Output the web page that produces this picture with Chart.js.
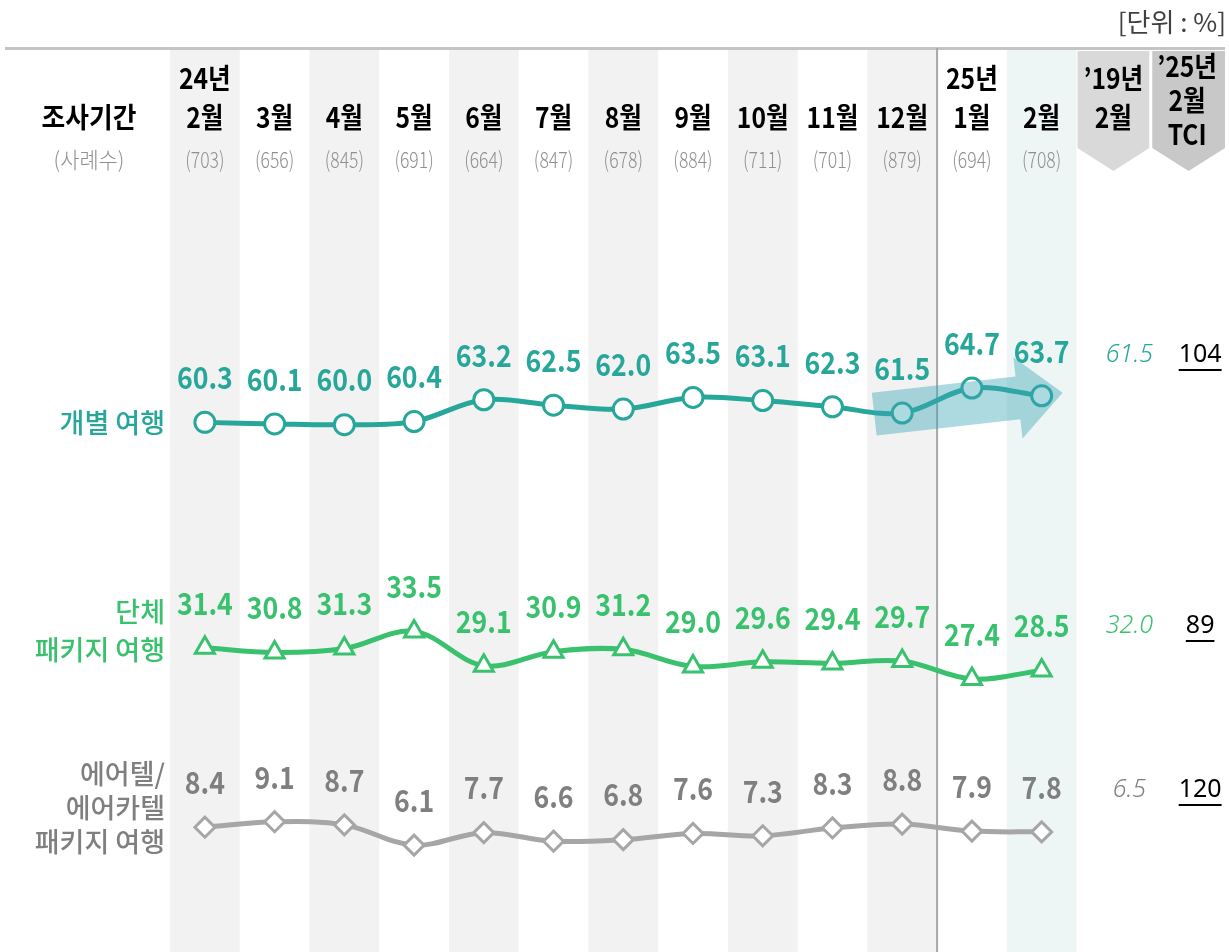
<!DOCTYPE html>
<html>
<head>
<meta charset="utf-8">
<script src="https://cdn.jsdelivr.net/npm/chart.js@4.4.1/dist/chart.umd.min.js"></script>
<style>
  html, body { margin: 0; padding: 0; background: #fff; }
  canvas { display: block; }
</style>
</head>
<body>
<canvas id="chart" width="1229" height="952"></canvas>
<script>
// data
const years = ['24년', '', '', '', '', '', '', '', '', '', '', '25년', ''];
const months = ['2월', '3월', '4월', '5월', '6월', '7월', '8월', '9월', '10월', '11월', '12월', '1월', '2월'];
const samples = [703, 656, 845, 691, 664, 847, 678, 884, 711, 701, 879, 694, 708];
const individual = [60.3, 60.1, 60.0, 60.4, 63.2, 62.5, 62.0, 63.5, 63.1, 62.3, 61.5, 64.7, 63.7];
const group = [31.4, 30.8, 31.3, 33.5, 29.1, 30.9, 31.2, 29.0, 29.6, 29.4, 29.7, 27.4, 28.5];
const airtel = [8.4, 9.1, 8.7, 6.1, 7.7, 6.6, 6.8, 7.6, 7.3, 8.3, 8.8, 7.9, 7.8];
const seriesNames = [['개별 여행'], ['단체', '패키지 여행'], ['에어텔/', '에어카텔', '패키지 여행']];
const base2019 = ['61.5', '32.0', '6.5'];
const tci2025 = ['104', '89', '120'];
const extraCols = [['’19년', '2월'], ['’25년', '2월', 'TCI']];

const TEAL = '#27a79a', GREEN = '#39c16e', GRAY = '#a6a6a6', GRAYTXT = '#7f7f7f';
const lineColors = [TEAL, GREEN, GRAY];
const textColors = [TEAL, GREEN, GRAYTXT];
const KR = '"Noto Sans CJK KR", "Noto Sans", sans-serif';

function txt(ctx, s, x, y, o) {
  ctx.save();
  ctx.translate(x, y);
  ctx.scale(o.sx || 1, 1);
  ctx.font = (o.style || '') + ' ' + (o.weight || 400) + ' ' + o.size + 'px ' + (o.family || KR);
  ctx.fillStyle = o.color || '#000';
  ctx.textAlign = o.align || 'center';
  ctx.textBaseline = 'middle';
  ctx.fillText(s, 0, 0);
  ctx.restore();
}

const background = {
  id: 'background',
  beforeDatasetsDraw(chart) {
    const { ctx, chartArea, scales: { x } } = chart;
    const half = (chartArea.right - chartArea.left) / chart.data.labels.length / 2;
    ctx.save();
    ctx.fillStyle = '#fff';
    ctx.fillRect(0, 0, chart.width, chart.height);
    // alternating month columns
    for (let i = 0; i < months.length; i += 2) {
      ctx.fillStyle = i === months.length - 1 ? '#eef6f5' : '#f2f2f2';
      ctx.fillRect(x.getPixelForValue(i) - half, 50, half * 2, chart.height - 50);
    }
    // header rule
    ctx.fillStyle = '#c4c4c4';
    ctx.fillRect(5, 47, 1220, 3);
    // divider between 2024 and 2025
    const dx = (x.getPixelForValue(10) + x.getPixelForValue(11)) / 2;
    ctx.fillStyle = '#a8a8a8';
    ctx.fillRect(dx - 1, 48, 2, chart.height - 48);
    // badges for the two extra columns
    const e0 = x.getPixelForValue(months.length);
    [[e0 - half + 1, e0 + half + 3, '#d9d9d9'], [e0 + half + 6, e0 + 3 * half + 9, '#c8c8c8']].forEach(([l, r, c]) => {
      ctx.fillStyle = c;
      ctx.beginPath();
      ctx.moveTo(l, 51);
      ctx.lineTo(r, 51);
      ctx.lineTo(r, 148);
      ctx.lineTo((l + r) / 2, 171);
      ctx.lineTo(l, 148);
      ctx.closePath();
      ctx.fill();
    });
    ctx.restore();
  }
};

const overlay = {
  id: 'overlay',
  afterDatasetsDraw(chart) {
    const { ctx, chartArea, scales: { x, y } } = chart;
    const half = (chartArea.right - chartArea.left) / chart.data.labels.length / 2;
    ctx.save();

    // trend arrow over the last three individual-travel points
    const p0 = chart.getDatasetMeta(0).data[10], p1 = chart.getDatasetMeta(0).data[12];
    const S = { x: p0.x - 28, y: p0.y + 1 }, T = { x: p1.x + 21, y: p1.y - 3 };
    const len = Math.hypot(T.x - S.x, T.y - S.y);
    const u = { x: (T.x - S.x) / len, y: (T.y - S.y) / len }, n = { x: -u.y, y: u.x };
    const H = { x: T.x - u.x * 45, y: T.y - u.y * 45 };
    const pt = (b, w) => [b.x + n.x * w, b.y + n.y * w];
    const poly = [pt(S, -21.5), pt(H, -21.5), pt(H, -41), [T.x, T.y], pt(H, 41), pt(H, 21.5), pt(S, 21.5)];
    ctx.fillStyle = 'rgba(60,165,182,0.42)';
    ctx.beginPath();
    poly.forEach((p, i) => i ? ctx.lineTo(p[0], p[1]) : ctx.moveTo(p[0], p[1]));
    ctx.closePath();
    ctx.fill();

    // value labels
    chart.data.datasets.forEach((ds, d) => {
      chart.getDatasetMeta(d).data.forEach((p, i) => {
        txt(ctx, ds.data[i].toFixed(1), p.x, p.y - 45,
          { size: 31, weight: 700, sx: 0.86, color: textColors[d] });
      });
    });

    // header
    txt(ctx, '조사기간', 89, 117, { size: 28, weight: 700, sx: 0.92 });
    txt(ctx, '(사례수)', 89, 160, { size: 22, weight: 300, sx: 0.95, color: '#8f8f8f' });
    months.forEach((m, i) => {
      const cx = x.getPixelForValue(i);
      if (years[i]) txt(ctx, years[i], cx, 78, { size: 28, weight: 700, sx: 0.88 });
      txt(ctx, m, cx, 117, { size: 28, weight: 700, sx: 0.88 });
      txt(ctx, '(' + samples[i] + ')', cx, 160, { size: 22, weight: 300, sx: 0.8, color: '#8f8f8f' });
    });
    const e0 = x.getPixelForValue(months.length) + 2, e1 = e0 + 2 * half + 4;
    txt(ctx, extraCols[0][0], e0, 78, { size: 28, weight: 700, sx: 0.88 });
    txt(ctx, extraCols[0][1], e0, 117, { size: 28, weight: 700, sx: 0.88 });
    extraCols[1].forEach((s, k) => txt(ctx, s, e1, 66 + k * 34, { size: 28, weight: 700, sx: 0.88 }));
    txt(ctx, '[단위 : %]', 1226, 22, { size: 26, weight: 400, align: 'right', color: '#404040' });

    // series names on the left
    const nameShift = [0, -17, -19], nameGap = [0, 38, 34];
    seriesNames.forEach((lines, d) => {
      const c = y.getPixelForValue(chart.data.datasets[d].data[0]) + nameShift[d];
      lines.forEach((s, k) => {
        const ly = c + (k - (lines.length - 1) / 2) * nameGap[d];
        txt(ctx, s, 165, ly, { size: 27, weight: 500, align: 'right', color: textColors[d] });
      });
    });

    // 2019 reference and TCI columns
    const rowY = [355, 626, 790];
    rowY.forEach((ry, d) => {
      txt(ctx, base2019[d], e0 + 16, ry, { size: 25, weight: 300, style: 'italic', family: '"Noto Sans", sans-serif', color: textColors[d] });
      txt(ctx, tci2025[d], e1 + 13, ry, { size: 25, weight: 400, family: '"Noto Sans", sans-serif', color: '#000' });
      ctx.font = '400 25px "Noto Sans", sans-serif';
      const w = ctx.measureText(tci2025[d]).width;
      ctx.fillStyle = '#000';
      ctx.fillRect(e1 + 13 - w / 2, ry + 14, w, 2);
    });

    ctx.restore();
  }
};

const pointStyles = ['circle', 'triangle', 'rectRot'];
const radii = [10, 11, 10];
const seriesData = [individual, group, airtel];

new Chart(document.getElementById('chart'), {
  type: 'line',
  data: {
    labels: months.map((m, i) => (years[i] ? years[i] + ' ' : '') + m)
      .concat(extraCols.map(c => c.join(' '))),
    datasets: seriesData.map((data, d) => ({
      label: seriesNames[d].join(' '),
      data: data,
      borderColor: lineColors[d],
      borderWidth: 5,
      tension: 0.35,
      pointStyle: pointStyles[d],
      pointRadius: radii[d],
      pointBorderWidth: 3,
      pointBorderColor: lineColors[d],
      pointBackgroundColor: '#fff'
    }))
  },
  options: {
    responsive: false,
    animation: false,
    layout: { autoPadding: false, padding: { left: 170, right: 13, top: 0, bottom: 0 } },
    scales: {
      x: { display: false, offset: true },
      y: { display: false, min: -7.6, max: 114.45 }
    },
    plugins: { legend: { display: false }, tooltip: { enabled: false } }
  },
  plugins: [background, overlay]
});
</script>
</body>
</html>
